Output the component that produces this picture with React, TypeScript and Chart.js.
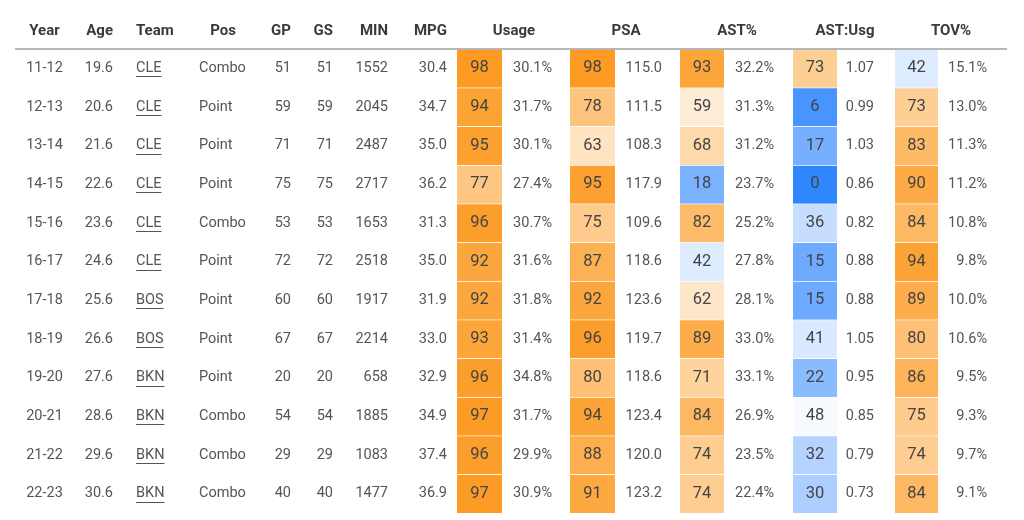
import React, { useEffect, useRef } from "react";
import { Chart, registerables } from "chart.js";

Chart.register(...registerables);

// ---------- data ----------
const years = ["11-12", "12-13", "13-14", "14-15", "15-16", "16-17", "17-18", "18-19", "19-20", "20-21", "21-22", "22-23"];
const ages = [19.6, 20.6, 21.6, 22.6, 23.6, 24.6, 25.6, 26.6, 27.6, 28.6, 29.6, 30.6];
const teams = ["CLE", "CLE", "CLE", "CLE", "CLE", "CLE", "BOS", "BOS", "BKN", "BKN", "BKN", "BKN"];
const positions = ["Combo", "Point", "Point", "Point", "Combo", "Point", "Point", "Point", "Point", "Combo", "Combo", "Combo"];
const gamesPlayed = [51, 59, 71, 75, 53, 72, 60, 67, 20, 54, 29, 40];
const gamesStarted = [51, 59, 71, 75, 53, 72, 60, 67, 20, 54, 29, 40];
const minutes = [1552, 2045, 2487, 2717, 1653, 2518, 1917, 2214, 658, 1885, 1083, 1477];
const mpg = [30.4, 34.7, 35.0, 36.2, 31.3, 35.0, 31.9, 33.0, 32.9, 34.9, 37.4, 36.9];

const usagePctile = [98, 94, 95, 77, 96, 92, 92, 93, 96, 97, 96, 97];
const usage = [30.1, 31.7, 30.1, 27.4, 30.7, 31.6, 31.8, 31.4, 34.8, 31.7, 29.9, 30.9];
const psaPctile = [98, 78, 63, 95, 75, 87, 92, 96, 80, 94, 88, 91];
const psa = [115.0, 111.5, 108.3, 117.9, 109.6, 118.6, 123.6, 119.7, 118.6, 123.4, 120.0, 123.2];
const astPctile = [93, 59, 68, 18, 82, 42, 62, 89, 71, 84, 74, 74];
const astPct = [32.2, 31.3, 31.2, 23.7, 25.2, 27.8, 28.1, 33.0, 33.1, 26.9, 23.5, 22.4];
const ratioPctile = [73, 6, 17, 0, 36, 15, 15, 41, 22, 48, 32, 30];
const astUsg = [1.07, 0.99, 1.03, 0.86, 0.82, 0.88, 0.88, 1.05, 0.95, 0.85, 0.79, 0.73];
const tovPctile = [42, 73, 83, 90, 84, 94, 89, 80, 86, 75, 74, 84];
const tovPct = [15.1, 13.0, 11.3, 11.2, 10.8, 9.8, 10.0, 10.6, 9.5, 9.3, 9.7, 9.1];

// ---------- layout / style ----------
const FONT = "Roboto, 'Noto Sans', sans-serif";
const ORANGE = [252, 150, 25];
const BLUE = [48, 134, 255];

function mix(rgb: number[], t: number) {
  const c = rgb.map((v) => Math.round(255 + (v - 255) * t));
  return `rgb(${c[0]},${c[1]},${c[2]})`;
}
function pctColor(p: number) {
  return p >= 50 ? mix(ORANGE, (p - 50) / 50) : mix(BLUE, (50 - p) / 50);
}

type TextCol = {
  header: string;
  x: number;
  align: CanvasTextAlign;
  hx: number;
  halign: CanvasTextAlign;
  values: string[];
  underline?: boolean;
};

const textCols: TextCol[] = [
  { header: "Year", x: 44.5, align: "center", hx: 44.5, halign: "center", values: years },
  { header: "Age", x: 113, align: "right", hx: 113, halign: "right", values: ages.map((v) => v.toFixed(1)) },
  { header: "Team", x: 136, align: "left", hx: 136, halign: "left", values: teams, underline: true },
  { header: "Pos", x: 199, align: "left", hx: 223, halign: "center", values: positions },
  { header: "GP", x: 291, align: "right", hx: 291, halign: "right", values: gamesPlayed.map(String) },
  { header: "GS", x: 333, align: "right", hx: 333, halign: "right", values: gamesStarted.map(String) },
  { header: "MIN", x: 388, align: "right", hx: 388, halign: "right", values: minutes.map(String) },
  { header: "MPG", x: 447, align: "right", hx: 447, halign: "right", values: mpg.map((v) => v.toFixed(1)) },
];

type PctCol = { header: string; x0: number; x1: number; vx: number; hx: number; pct: number[]; values: string[] };

const pctCols: PctCol[] = [
  { header: "Usage", x0: 457, x1: 502, vx: 552, hx: 514, pct: usagePctile, values: usage.map((v) => v.toFixed(1) + "%") },
  { header: "PSA", x0: 570, x1: 615, vx: 662, hx: 626, pct: psaPctile, values: psa.map((v) => v.toFixed(1)) },
  { header: "AST%", x0: 680, x1: 724, vx: 774, hx: 737, pct: astPctile, values: astPct.map((v) => v.toFixed(1) + "%") },
  { header: "AST:Usg", x0: 793, x1: 837, vx: 874, hx: 845, pct: ratioPctile, values: astUsg.map((v) => v.toFixed(2)) },
  { header: "TOV%", x0: 895, x1: 938, vx: 987, hx: 951, pct: tovPctile, values: tovPct.map((v) => v.toFixed(1) + "%") },
];

const tablePlugin = {
  id: "tableText",
  afterDatasetsDraw(chart: any) {
    const { ctx, chartArea } = chart;
    const xs = chart.scales.x;
    const ys = chart.scales.y;
    ctx.save();
    ctx.textBaseline = "middle";

    // header
    const hy = chartArea.top - 18;
    ctx.font = `bold 15px ${FONT}`;
    ctx.fillStyle = "#3a3a3a";
    for (const c of textCols) {
      ctx.textAlign = c.halign;
      ctx.fillText(c.header, xs.getPixelForValue(c.hx), hy);
    }
    for (const c of pctCols) {
      ctx.textAlign = "center";
      ctx.fillText(c.header, xs.getPixelForValue(c.hx), hy);
    }

    // header rule
    ctx.strokeStyle = "#a0a0a0";
    ctx.lineWidth = 1.5;
    ctx.beginPath();
    ctx.moveTo(xs.getPixelForValue(15), chartArea.top);
    ctx.lineTo(xs.getPixelForValue(1007), chartArea.top);
    ctx.stroke();

    // body text
    ctx.font = `14.5px ${FONT}`;
    ctx.fillStyle = "#555555";
    for (const c of textCols) {
      ctx.textAlign = c.align;
      c.values.forEach((v, i) => {
        const x = xs.getPixelForValue(c.x);
        const y = ys.getPixelForValue(i);
        ctx.fillText(v, x, y);
        if (c.underline) {
          const w = ctx.measureText(v).width;
          ctx.strokeStyle = "#555555";
          ctx.lineWidth = 1;
          ctx.beginPath();
          ctx.moveTo(x, Math.round(y + 8) + 0.5);
          ctx.lineTo(x + w, Math.round(y + 8) + 0.5);
          ctx.stroke();
        }
      });
    }
    for (const c of pctCols) {
      ctx.textAlign = "right";
      c.values.forEach((v, i) => {
        ctx.fillText(v, xs.getPixelForValue(c.vx), ys.getPixelForValue(i));
      });
    }
    ctx.font = `16.5px ${FONT}`;
    ctx.fillStyle = "#444444";
    ctx.textAlign = "center";
    for (const c of pctCols) {
      c.pct.forEach((p, i) => {
        ctx.fillText(String(p), xs.getPixelForValue((c.x0 + c.x1) / 2), ys.getPixelForValue(i));
      });
    }
    ctx.restore();
  },
};

export default function App() {
  const ref = useRef<HTMLCanvasElement | null>(null);
  useEffect(() => {
    if (!ref.current) return;
    const chart = new Chart(ref.current, {
      type: "bar",
      data: {
        labels: years,
        datasets: pctCols.map((c) => ({
          label: c.header,
          data: c.pct.map(() => [c.x0, c.x1]) as any,
          backgroundColor: c.pct.map(pctColor),
          borderColor: "rgba(255,255,255,0.35)",
          borderWidth: { top: 1, bottom: 0, left: 0, right: 0 } as any,
          borderSkipped: false,
          grouped: false,
          barPercentage: 1,
          categoryPercentage: 1,
        })),
      },
      options: {
        indexAxis: "y",
        responsive: false,
        animation: false,
        layout: { padding: { top: 49, bottom: 7, left: 0, right: 0 } },
        scales: {
          x: { type: "linear", min: 0, max: 1024, display: false },
          y: { type: "category", display: false, offset: true },
        },
        plugins: { legend: { display: false }, tooltip: { enabled: false } },
      },
      plugins: [tablePlugin],
    });
    return () => chart.destroy();
  }, []);
  return (
    <div style={{ position: "absolute", left: 0, top: 0, width: 1024, height: 520, background: "#fff" }}>
      <canvas ref={ref} width={1024} height={520} />
    </div>
  );
}
